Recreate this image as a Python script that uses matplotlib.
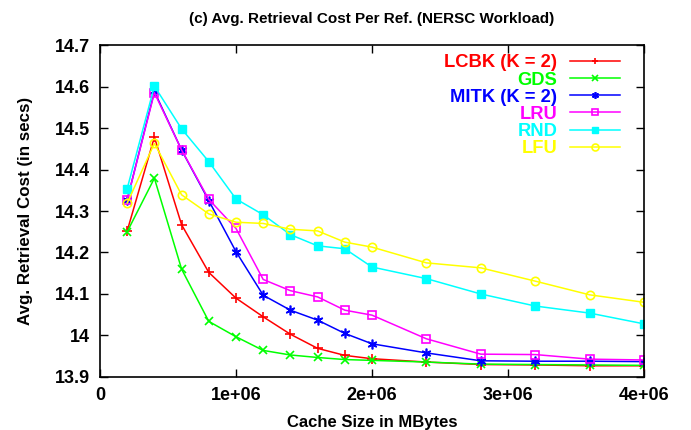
import matplotlib
matplotlib.use('Agg')
import matplotlib.pyplot as plt
from matplotlib.ticker import FuncFormatter, MultipleLocator

plt.rcParams['font.family'] = ['Liberation Sans', 'DejaVu Sans']
plt.rcParams['font.weight'] = 'bold'

# cache sizes (MBytes)
cache_size = [200000, 400000, 600000, 800000, 1000000, 1200000, 1400000, 1600000,
              1800000, 2000000, 2400000, 2800000, 3200000, 3600000, 4000000]

# average retrieval cost per reference (secs)
lcbk = [14.252, 14.478, 14.267, 14.152, 14.090, 14.045, 14.003, 13.969,
        13.952, 13.944, 13.936, 13.930, 13.929, 13.927, 13.927]
gds = [14.250, 14.379, 14.160, 14.034, 13.997, 13.964, 13.953, 13.947,
       13.942, 13.940, 13.936, 13.931, 13.930, 13.929, 13.928]
mitk = [14.327, 14.588, 14.447, 14.325, 14.202, 14.097, 14.061, 14.037,
        14.005, 13.980, 13.958, 13.939, 13.938, 13.938, 13.937]
lru = [14.327, 14.585, 14.447, 14.328, 14.258, 14.135, 14.108, 14.093,
       14.061, 14.049, 13.992, 13.955, 13.954, 13.943, 13.941]
rnd = [14.354, 14.601, 14.498, 14.419, 14.329, 14.291, 14.243, 14.216,
       14.209, 14.165, 14.137, 14.100, 14.071, 14.054, 14.028]
lfu = [14.319, 14.463, 14.339, 14.293, 14.273, 14.270, 14.256, 14.252,
       14.225, 14.213, 14.175, 14.163, 14.131, 14.098, 14.080]

fig = plt.figure(figsize=(6.91, 4.30), dpi=100)
ax = fig.add_axes([0.1447, 0.1233, 0.7873, 0.772])

lw = 1.1
ax.plot(cache_size, lcbk, color='#ff0000', marker='+', ms=7, mew=1.2, lw=lw, label='LCBK (K = 2)')
ax.plot(cache_size, gds, color='#00ff00', marker='x', ms=6, mew=1.2, lw=lw, label='GDS')
ax.plot(cache_size, mitk, color='#0000ff', marker=(6, 2, 0), ms=7, mew=1.2, lw=lw, label='MITK (K = 2)')
ax.plot(cache_size, lru, color='#ff00ff', marker='s', ms=6, mew=1.2, mfc='none', lw=lw, label='LRU')
ax.plot(cache_size, rnd, color='#00ffff', marker='s', ms=6, lw=lw, label='RND')
ax.plot(cache_size, lfu, color='#ffff00', marker='o', ms=6, mew=1.2, mfc='none', lw=lw, label='LFU')

ax.set_xlim(0, 4000000)
ax.set_ylim(13.9, 14.7)
ax.xaxis.set_major_locator(MultipleLocator(1000000))
ax.yaxis.set_major_locator(MultipleLocator(0.1))
fmt = FuncFormatter(lambda v, p: '%g' % round(v, 6))
ax.xaxis.set_major_formatter(fmt)
ax.yaxis.set_major_formatter(fmt)
ax.tick_params(direction='in', length=6, width=1, top=True, right=True, labelsize=13, pad=7)
for s in ax.spines.values():
    s.set_linewidth(1.2)

ax.set_title('(c) Avg. Retrieval Cost Per Ref. (NERSC Workload)', fontsize=11, fontweight='bold', pad=16)
ax.set_xlabel('Cache Size in MBytes', fontsize=12, fontweight='bold', labelpad=8)
ax.set_ylabel('Avg. Retrieval Cost (in secs)', fontsize=12.2, fontweight='bold', labelpad=16)

leg = ax.legend(loc='upper right', bbox_to_anchor=(0.969, 0.994), frameon=False, markerfirst=False,
                fontsize=13.2, handlelength=2.7, handletextpad=0.7, labelspacing=0.01,
                labelcolor='linecolor', borderaxespad=0)
for h in leg.legend_handles:
    h.set_markersize(5)

fig.savefig('out.png', dpi=100)
